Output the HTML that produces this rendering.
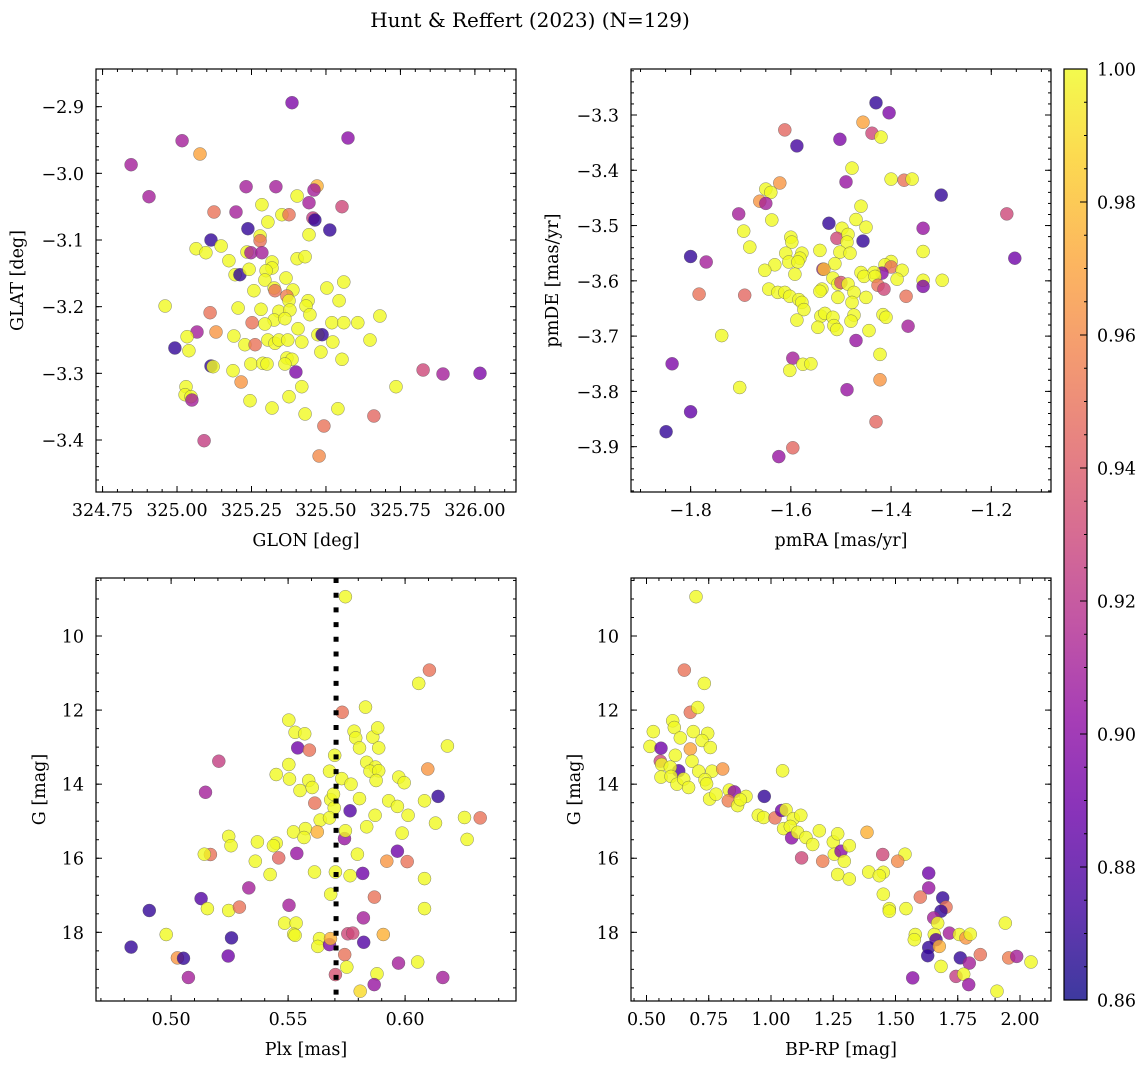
<!DOCTYPE html>
<html><head><meta charset="utf-8"><style>
html,body{margin:0;padding:0;background:#fff;}
svg{display:block;font-family:"DejaVu Serif","Liberation Serif",serif;}
</style></head><body>
<svg id="fig" width="1148" height="1068" viewBox="0 0 1148 1068" xmlns="http://www.w3.org/2000/svg">
<defs>
<linearGradient id="plasmaGrad" x1="0" y1="1" x2="0" y2="0">
<stop offset="0" stop-color="#0d0887"/><stop offset="0.1" stop-color="#41049d"/><stop offset="0.2" stop-color="#6a00a8"/><stop offset="0.3" stop-color="#8f0da4"/><stop offset="0.4" stop-color="#b12a90"/><stop offset="0.5" stop-color="#cc4778"/><stop offset="0.6" stop-color="#e16462"/><stop offset="0.7" stop-color="#f2844b"/><stop offset="0.8" stop-color="#fca636"/><stop offset="0.9" stop-color="#fcce25"/><stop offset="1" stop-color="#f0f921"/>
</linearGradient>
</defs>
<text x="530" y="27" font-size="20" text-anchor="middle" fill="#000">Hunt &amp; Reffert (2023) (N=129)</text>
</svg>
<script>
// ---------- data ----------
const p1Glon=[325.386,325.574,325.017,325.077,324.846,324.906,325.232,325.332,325.47,325.46,325.403,325.285,325.443,325.124,325.198,325.352,325.376,325.554,325.456,325.463,325.305,325.238,325.513,325.443,325.279,325.114,325.279,325.064,325.097,325.148,325.235,325.248,325.285,325.174,325.403,325.43,325.319,325.319,325.299,325.195,325.211,325.242,325.295,325.366,325.56,325.258,325.326,325.389,325.503,325.329,325.369,325.376,325.44,325.544,324.96,325.205,325.282,325.342,325.379,325.433,325.446,325.326,325.362,325.252,325.111,325.295,325.52,325.56,325.607,325.681,325.406,325.473,325.487,325.067,325.131,325.034,325.191,325.228,325.262,325.305,325.329,325.342,325.372,325.419,325.523,325.648,324.993,325.04,325.483,325.554,325.369,325.386,325.248,325.288,325.302,325.362,325.114,325.121,325.188,325.399,325.215,325.03,325.027,325.047,325.05,325.419,325.376,325.735,325.826,325.893,326.017,325.245,325.319,325.43,325.54,325.661,325.493,325.091,325.477];
const p1Glat=[-2.894,-2.947,-2.951,-2.971,-2.987,-3.035,-3.02,-3.02,-3.019,-3.025,-3.034,-3.047,-3.044,-3.058,-3.058,-3.062,-3.062,-3.05,-3.067,-3.07,-3.073,-3.083,-3.085,-3.092,-3.094,-3.1,-3.101,-3.113,-3.119,-3.109,-3.118,-3.119,-3.119,-3.131,-3.128,-3.125,-3.133,-3.142,-3.146,-3.152,-3.152,-3.144,-3.16,-3.157,-3.163,-3.176,-3.172,-3.175,-3.172,-3.176,-3.184,-3.191,-3.191,-3.191,-3.199,-3.202,-3.204,-3.207,-3.205,-3.199,-3.212,-3.22,-3.218,-3.224,-3.209,-3.226,-3.224,-3.224,-3.224,-3.214,-3.233,-3.242,-3.242,-3.238,-3.238,-3.245,-3.244,-3.257,-3.257,-3.25,-3.255,-3.25,-3.25,-3.253,-3.253,-3.25,-3.262,-3.266,-3.268,-3.279,-3.277,-3.279,-3.286,-3.285,-3.286,-3.286,-3.289,-3.29,-3.296,-3.298,-3.313,-3.32,-3.332,-3.335,-3.34,-3.32,-3.335,-3.32,-3.295,-3.301,-3.3,-3.341,-3.352,-3.361,-3.353,-3.364,-3.379,-3.401,-3.424];
const p1Prob=[.895,.90,.91,.97,.91,.91,.91,.91,.975,.91,1,1,.91,.95,.91,1,.95,.93,.925,.87,1,.87,.87,1,1,.87,.95,1,1,1,1,.91,.91,1,1,1,1,1,1,1,.87,1,1,1,1,1,1,1,1,.95,.955,1,1,1,1,1,1,1,1,1,1,1,1,.95,.95,1,1,1,1,1,1,1,.87,.91,.965,1,1,1,.95,1,1,1,1,1,1,1,.87,1,1,1,1,1,1,1,1,1,.87,1,1,.895,.965,1,1,1,.91,1,1,1,.93,.91,.895,1,1,1,1,.945,.95,.925,.96];

const p2PmRA=[-1.43,-1.404,-1.456,-1.612,-1.438,-1.42,-1.502,-1.588,-1.478,-1.4,-1.374,-1.358,-1.622,-1.49,-1.65,-1.64,-1.3,-1.662,-1.65,-1.46,-1.169,-1.704,-1.47,-1.638,-1.524,-1.45,-1.336,-1.498,-1.694,-1.6,-1.508,-1.486,-1.598,-1.488,-1.456,-1.682,-1.542,-1.336,-1.61,-1.578,-1.502,-1.482,-1.8,-1.153,-1.582,-1.769,-1.604,-1.586,-1.4,-1.632,-1.512,-1.412,-1.536,-1.534,-1.652,-1.4,-1.378,-1.418,-1.592,-1.46,-1.434,-1.454,-1.432,-1.516,-1.388,-1.336,-1.298,-1.336,-1.506,-1.5,-1.486,-1.426,-1.414,-1.644,-1.626,-1.612,-1.538,-1.542,-1.783,-1.692,-1.474,-1.37,-1.602,-1.584,-1.506,-1.45,-1.478,-1.578,-1.574,-1.54,-1.532,-1.474,-1.516,-1.416,-1.41,-1.588,-1.48,-1.514,-1.546,-1.508,-1.366,-1.444,-1.47,-1.738,-1.422,-1.596,-1.576,-1.56,-1.837,-1.602,-1.422,-1.702,-1.488,-1.8,-1.849,-1.43,-1.596,-1.624];
const p2PmDE=[-3.278,-3.296,-3.313,-3.327,-3.333,-3.34,-3.344,-3.356,-3.396,-3.416,-3.418,-3.416,-3.423,-3.421,-3.434,-3.44,-3.445,-3.456,-3.46,-3.465,-3.479,-3.479,-3.489,-3.49,-3.496,-3.503,-3.505,-3.505,-3.51,-3.521,-3.523,-3.516,-3.53,-3.53,-3.528,-3.539,-3.545,-3.547,-3.55,-3.55,-3.548,-3.55,-3.556,-3.559,-3.559,-3.566,-3.566,-3.566,-3.565,-3.571,-3.569,-3.571,-3.579,-3.579,-3.581,-3.575,-3.581,-3.586,-3.588,-3.585,-3.585,-3.592,-3.592,-3.595,-3.597,-3.599,-3.599,-3.61,-3.606,-3.603,-3.606,-3.608,-3.615,-3.615,-3.621,-3.621,-3.615,-3.619,-3.624,-3.626,-3.621,-3.628,-3.628,-3.634,-3.63,-3.63,-3.639,-3.639,-3.652,-3.664,-3.659,-3.662,-3.666,-3.661,-3.666,-3.671,-3.673,-3.681,-3.684,-3.688,-3.682,-3.69,-3.708,-3.699,-3.733,-3.74,-3.751,-3.75,-3.75,-3.762,-3.779,-3.793,-3.797,-3.837,-3.873,-3.855,-3.902,-3.918];
const p2Prob=[.87,.895,.97,.945,.93,1,.895,.875,1,1,.95,1,.965,.905,1,1,.87,.965,.91,1,.93,.91,1,1,.87,1,.905,1,1,1,.93,1,1,1,.87,1,1,1,1,1,1,1,.87,.89,1,.91,1,1,1,1,1,1,.91,.98,1,.95,1,.9,1,1,1,1,1,1,1,1,1,.895,1,.935,1,.95,.93,1,1,1,1,1,.95,.945,1,.95,1,1,1,1,1,1,1,1,1,1,1,1,1,1,1,1,1,1,.91,1,.905,1,1,.91,1,1,.895,1,.965,1,.905,.885,.87,.945,.945,.905];

const p3Plx=[.5745,.6104,.6058,.5731,.5831,.5503,.553,.5571,.5782,.5789,.5862,.5883,.5805,.5887,.6181,.5541,.5591,.5699,.5204,.5503,.5449,.5677,.5729,.5836,.5873,.585,.5887,.5876,.6097,.5506,.5588,.5551,.5603,.5769,.5973,.5996,.5147,.5614,.5682,.5694,.5697,.5805,.5765,.593,.5967,.6083,.6141,.5872,.6013,.5637,.5677,.6254,.6321,.613,.5574,.5523,.5568,.5625,.5741,.5745,.5836,.5987,.6265,.5246,.5256,.5369,.5449,.5437,.5168,.5142,.546,.5537,.536,.5796,.5967,.5922,.6009,.5423,.5613,.5702,.5765,.5819,.6083,.5332,.5128,.4907,.5155,.5246,.5292,.5682,.5869,.6083,.5504,.5822,.5485,.5534,.5524,.553,.4979,.5258,.4829,.5027,.5053,.5244,.5074,.5634,.5627,.5677,.5681,.5755,.5776,.5907,.5823,.5742,.5751,.5702,.588,.5868,.5972,.6054,.6161,.5808];
const p3G=[8.94,10.92,11.28,12.06,11.92,12.27,12.6,12.64,12.57,12.75,12.73,12.48,13.02,13.02,12.97,13.02,13.08,13.22,13.38,13.47,13.74,13.65,13.85,13.41,13.54,13.65,13.64,13.9,13.59,13.86,13.9,14.17,14.09,14.0,13.81,13.96,14.22,14.51,14.42,14.27,14.64,14.39,14.72,14.45,14.6,14.45,14.33,14.84,14.84,14.97,14.91,14.9,14.91,15.05,15.2,15.29,15.44,15.29,15.47,15.26,15.15,15.32,15.49,15.41,15.66,15.56,15.59,15.66,15.9,15.89,15.99,15.87,16.08,15.89,15.81,16.08,16.09,16.44,16.37,16.37,16.47,16.41,16.55,16.8,17.09,17.41,17.36,17.41,17.32,16.97,17.05,17.36,17.27,17.61,17.75,17.75,18.05,18.08,18.06,18.15,18.4,18.69,18.7,18.64,19.22,18.17,18.38,18.33,18.17,18.04,18.02,18.06,18.27,18.6,18.94,19.14,19.12,19.41,18.83,18.8,19.22,19.59];
const p3Prob=[1,.95,1,.95,1,1,1,1,1,1,1,1,1,1,1,.89,.95,1,.925,1,1,1,1,1,1,1,1,1,.965,1,1,1,1,1,1,1,.91,.95,1,1,1,1,.88,1,1,1,.87,1,1,1,1,1,.95,1,1,1,1,.975,.905,1,1,1,1,1,1,1,1,1,.95,1,.945,.905,1,1,.89,.965,.95,1,1,1,1,.89,1,.91,.88,.87,1,1,.95,1,.95,1,.91,.91,1,1,1,1,1,.87,.87,.965,.87,.89,.91,1,1,.895,.975,.93,.93,.975,.88,.95,1,.935,1,.905,.91,1,.91,.99];
const p3PlxMean=[0.5705];

const p4BpRp=[.6988,.652,.7323,.676,.7055,.6051,.6118,.5274,.6359,.6881,.7457,.7229,.5141,.5582,.676,.7563,.6158,.5555,.5609,.6292,.6828,.7095,.763,.8059,1.0467,.5582,.5957,.5984,.6225,.6493,.6693,.7349,.7416,.7536,.7791,.8327,.8527,.8286,.8661,.8996,.8768,.9732,.9491,.9705,1.0161,1.0428,1.0602,1.0896,1.1198,1.0508,1.0776,1.0829,1.107,1.1405,1.1673,1.194,1.1231,1.2075,1.2503,1.2677,1.2543,1.2811,1.3146,1.2944,1.3855,1.2677,1.3146,1.4485,1.5382,1.5087,1.3922,1.4511,1.4351,1.4511,1.4752,1.4752,1.5422,1.6333,1.6333,1.5998,1.6895,1.7029,1.6828,1.6533,1.6694,1.7163,1.7564,1.7831,1.8005,1.5797,1.5757,1.656,1.6627,1.6333,1.6293,1.676,1.6828,1.7604,1.7965,1.743,1.7738,1.7938,1.569,1.8407,1.941,1.9545,1.9866,2.0442,1.9076];
const p4G=[8.94,10.92,11.28,12.06,11.93,12.29,12.47,12.58,12.75,12.58,12.63,12.82,12.98,13.03,13.05,13.01,13.22,13.38,13.47,13.64,13.38,13.65,13.65,13.59,13.64,13.81,13.54,13.79,14.0,13.86,14.09,13.88,13.99,14.4,14.27,14.16,14.21,14.45,14.58,14.33,14.42,14.33,14.84,14.9,14.91,14.71,14.69,14.93,14.84,15.2,15.14,15.45,15.3,15.44,15.63,15.26,15.99,16.08,15.56,15.34,15.89,15.81,15.66,16.08,15.3,16.44,16.56,15.9,15.89,16.08,16.37,16.38,16.47,16.97,17.36,17.43,17.36,16.4,16.8,17.05,17.07,17.32,17.43,17.61,17.75,18.02,18.06,18.15,18.05,18.06,18.2,18.06,18.2,18.41,18.63,18.38,18.92,18.69,18.83,19.19,19.13,19.41,19.23,18.6,17.75,18.69,18.65,18.8,19.59];
const p4Prob=[1,.95,1,.95,1,1,1,1,1,1,1,1,1,.89,.97,1,1,.93,1,.88,1,1,1,.965,1,1,1,1,1,1,1,1,1,1,1,1,.9,.955,1,1,1,.87,1,1,.95,.89,1,1,1,1,1,.9,1,1,1,1,.93,.955,1,1,1,.9,1,1,.975,1,1,.93,1,.96,1,1,1,1,1,1,1,.89,.905,.95,.87,.95,.87,.91,1,.91,1,.965,1,1,1,1,.88,.87,.87,.975,1,.87,.91,.925,1,.905,.9,.95,1,.955,.91,1,1];

// tick values & labels
const p1XTicks=[324.75,325.00,325.25,325.50,325.75,326.00];
const p1XLabels=["324.75","325.00","325.25","325.50","325.75","326.00"];
const p1YTicks=[-2.9,-3.0,-3.1,-3.2,-3.3,-3.4];
const p1YLabels=["\u22122.9","\u22123.0","\u22123.1","\u22123.2","\u22123.3","\u22123.4"];
const p2XTicks=[-1.8,-1.6,-1.4,-1.2];
const p2XLabels=["\u22121.8","\u22121.6","\u22121.4","\u22121.2"];
const p2YTicks=[-3.3,-3.4,-3.5,-3.6,-3.7,-3.8,-3.9];
const p2YLabels=["\u22123.3","\u22123.4","\u22123.5","\u22123.6","\u22123.7","\u22123.8","\u22123.9"];
const p3XTicks=[0.50,0.55,0.60];
const p3XLabels=["0.50","0.55","0.60"];
const gTicks=[10,12,14,16,18];
const gLabels=["10","12","14","16","18"];
const p4XTicks=[0.50,0.75,1.00,1.25,1.50,1.75,2.00];
const p4XLabels=["0.50","0.75","1.00","1.25","1.50","1.75","2.00"];
const cbTicks=[1.00,0.98,0.96,0.94,0.92,0.90,0.88,0.86];
const cbLabels=["1.00","0.98","0.96","0.94","0.92","0.90","0.88","0.86"];

// ---------- helpers ----------
const NS="http://www.w3.org/2000/svg";
const svg=document.getElementById('fig');
const VMIN=0.86, VMAX=1.0;
const FS=17.5;
const PLASMA=["#0d0887","#41049d","#6a00a8","#8f0da4","#b12a90","#cc4778","#e16462","#f2844b","#fca636","#fcce25","#f0f921"];
function hex(h){return [parseInt(h.substr(1,2),16),parseInt(h.substr(3,2),16),parseInt(h.substr(5,2),16)];}
function cmap(v){
  let t=(v-VMIN)/(VMAX-VMIN); t=Math.max(0,Math.min(1,t));
  const f=t*10, i=Math.min(9,Math.floor(f)), r=f-i;
  const a=hex(PLASMA[i]), b=hex(PLASMA[i+1]);
  return "rgb("+a.map((c,k)=>Math.round(c+(b[k]-c)*r)).join(",")+")";
}
function mk(tag,attrs,parent){
  const e=document.createElementNS(NS,tag);
  for(const k in attrs) e.setAttribute(k,attrs[k]);
  (parent||svg).appendChild(e);
  return e;
}
function lin(d0,d1,r0,r1){return v=>r0+(v-d0)/(d1-d0)*(r1-r0);}

function panel(cfg){
  const g=mk('g',{});
  
  
  const sx=lin(cfg.xmin,cfg.xmax,cfg.L,cfg.R);
  const sy=lin(cfg.ymin,cfg.ymax,cfg.B,cfg.T);
  const pg=mk('g',{},g);
  
  
  const n=Math.min(cfg.xs.length,cfg.ys.length,cfg.cs.length);
  for(let i=0;i<n;i++){
    const c=mk('circle',{cx:sx(cfg.xs[i]).toFixed(1),cy:sy(cfg.ys[i]).toFixed(1),r:6.5,fill:cmap(cfg.cs[i]),'fill-opacity':0.8,stroke:'#555','stroke-width':0.5,'stroke-opacity':0.7},pg);
    
    
  }
  if(cfg.extra) cfg.extra(g,sx,sy);
  const box=mk('rect',{x:cfg.L,y:cfg.T,width:cfg.R-cfg.L,height:cfg.B-cfg.T,fill:'none',stroke:'#000','stroke-width':1.2},g);
  
  
  const tg=mk('g',{stroke:'#000','stroke-width':1},g);
  
  
  function xt(v,len){const x=sx(v); if(x<cfg.L-0.1||x>cfg.R+0.1) return;
    mk('line',{x1:x,x2:x,y1:cfg.B,y2:cfg.B-len},tg); mk('line',{x1:x,x2:x,y1:cfg.T,y2:cfg.T+len},tg);}
  function yt(v,len){const y=sy(v); if(y<cfg.T-0.1||y>cfg.B+0.1) return;
    mk('line',{x1:cfg.L,x2:cfg.L+len,y1:y,y2:y},tg); mk('line',{x1:cfg.R,x2:cfg.R-len,y1:y,y2:y},tg);}
  const xlo=Math.min(cfg.xmin,cfg.xmax), xhi=Math.max(cfg.xmin,cfg.xmax);
  for(let k=Math.ceil(xlo/cfg.xminor-1e-6);k*cfg.xminor<=xhi+1e-9;k++) xt(k*cfg.xminor,3);
  const ylo=Math.min(cfg.ymin,cfg.ymax), yhi=Math.max(cfg.ymin,cfg.ymax);
  for(let k=Math.ceil(ylo/cfg.yminor-1e-6);k*cfg.yminor<=yhi+1e-9;k++) yt(k*cfg.yminor,3);
  cfg.xticks.forEach(v=>xt(v,6));
  cfg.yticks.forEach(v=>yt(v,6));
  cfg.xticks.forEach((v,i)=>{
    const t=mk('text',{x:sx(v),y:cfg.B+24,'font-size':FS,'text-anchor':'middle',fill:'#000'},g);
    t.textContent=cfg.xlabels[i];
    
    
  });
  cfg.yticks.forEach((v,i)=>{
    const t=mk('text',{x:cfg.L-12,y:sy(v)+6.5,'font-size':FS,'text-anchor':'end',fill:'#000'},g);
    t.textContent=cfg.ylabels[i];
    
    
  });
  const xtitle=mk('text',{x:(cfg.L+cfg.R)/2,y:cfg.B+54,'font-size':FS,'text-anchor':'middle',fill:'#000'},g);
  xtitle.textContent=cfg.xtitle;
  
  
  const yx=cfg.ytx, yy=(cfg.T+cfg.B)/2;
  const ytitle=mk('text',{x:yx,y:yy,'font-size':FS,'text-anchor':'middle',fill:'#000',transform:'rotate(-90 '+yx+' '+yy+')'},g);
  ytitle.textContent=cfg.ytitle;
  
  
}

panel({name:'glon-glat-panel',L:96,R:516,T:69,B:492,xmin:324.728,xmax:326.138,ymin:-3.478,ymax:-2.8435,
  xs:p1Glon,ys:p1Glat,cs:p1Prob,xticks:p1XTicks,xlabels:p1XLabels,yticks:p1YTicks,ylabels:p1YLabels,
  xminor:0.05,yminor:0.02,xtitle:'GLON [deg]',ytitle:'GLAT [deg]',ytx:23});
panel({name:'proper-motion-panel',L:631,R:1051,T:69,B:492,xmin:-1.919,xmax:-1.0808,ymin:-3.982,ymax:-3.2168,
  xs:p2PmRA,ys:p2PmDE,cs:p2Prob,xticks:p2XTicks,xlabels:p2XLabels,yticks:p2YTicks,ylabels:p2YLabels,
  xminor:0.05,yminor:0.02,xtitle:'pmRA [mas/yr]',ytitle:'pmDE [mas/yr]',ytx:558});
panel({name:'parallax-mag-panel',L:96,R:516,T:578,B:1001,xmin:0.4679,xmax:0.6474,ymin:19.854,ymax:8.434,
  xs:p3Plx,ys:p3G,cs:p3Prob,xticks:p3XTicks,xlabels:p3XLabels,yticks:gTicks,ylabels:gLabels,
  xminor:0.01,yminor:0.5,xtitle:'Plx [mas]',ytitle:'G [mag]',ytx:45,
  extra:(g,sx,sy)=>{
    p3PlxMean.forEach(v=>{
      const l=mk('line',{x1:sx(v),x2:sx(v),y1:578,y2:1001,stroke:'#000','stroke-width':5,'stroke-dasharray':'5 9.7'},g);
      
      
    });
  }});
panel({name:'cmd-panel',L:631,R:1051,T:578,B:1001,xmin:0.4378,xmax:2.1245,ymin:19.854,ymax:8.434,
  xs:p4BpRp,ys:p4G,cs:p4Prob,xticks:p4XTicks,xlabels:p4XLabels,yticks:gTicks,ylabels:gLabels,
  xminor:0.05,yminor:0.5,xtitle:'BP-RP [mag]',ytitle:'G [mag]',ytx:580});

(function(){
  const g=mk('g',{});
  
  
  const L=1064,R=1087,T=69,B=1000;
  const sy=lin(VMIN,VMAX,B,T);
  const r=mk('rect',{x:L,y:T,width:R-L,height:B-T,fill:'url(#plasmaGrad)','fill-opacity':0.8},g);
  
  
  const f=mk('rect',{x:L,y:T,width:R-L,height:B-T,fill:'none',stroke:'#000','stroke-width':1.2},g);
  
  
  for(let k=172;k<=200;k++){const v=k*0.005; const y=sy(v);
    mk('line',{x1:R,x2:R-3,y1:y,y2:y,stroke:'#000','stroke-width':1},g);}
  cbTicks.forEach((v,i)=>{
    const y=sy(v);
    mk('line',{x1:R,x2:R-7,y1:y,y2:y,stroke:'#000','stroke-width':1},g);
    const t=mk('text',{x:R+10,y:y+6.5,'font-size':FS,fill:'#000'},g);
    t.textContent=cbLabels[i];
    
    
  });
})();
</script>
</body></html>
